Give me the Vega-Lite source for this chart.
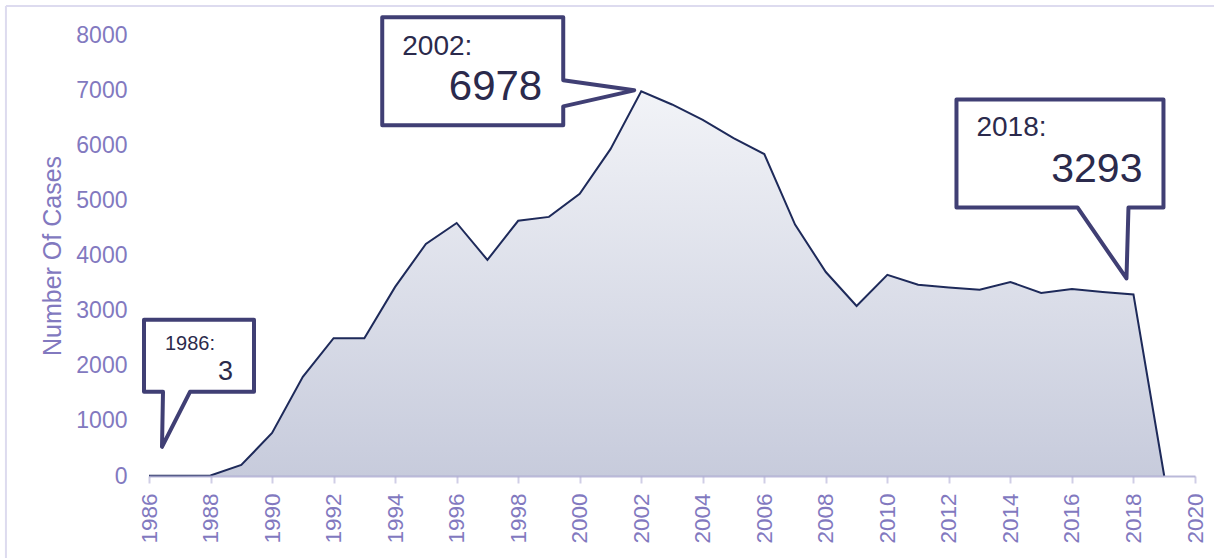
{
  "$schema": "https://vega.github.io/schema/vega-lite/v6.json",
  "width": 1046,
  "height": 441,
  "autosize": {"type": "none"},
  "padding": {"left": 149, "top": 35, "right": 19, "bottom": 82},
  "background": "white",
  "config": {"view": {"stroke": null}, "font": "Liberation Sans"},
  "datasets": {
    "cases": [
      {"year": 1986, "cases": 3},
      {"year": 1987, "cases": 4},
      {"year": 1988, "cases": 10},
      {"year": 1989, "cases": 200},
      {"year": 1990, "cases": 780},
      {"year": 1991, "cases": 1800},
      {"year": 1992, "cases": 2500},
      {"year": 1993, "cases": 2500},
      {"year": 1994, "cases": 3430},
      {"year": 1995, "cases": 4210},
      {"year": 1996, "cases": 4590},
      {"year": 1997, "cases": 3920},
      {"year": 1998, "cases": 4630},
      {"year": 1999, "cases": 4700},
      {"year": 2000, "cases": 5120},
      {"year": 2001, "cases": 5930},
      {"year": 2002, "cases": 6978},
      {"year": 2003, "cases": 6740},
      {"year": 2004, "cases": 6460},
      {"year": 2005, "cases": 6130},
      {"year": 2006, "cases": 5840},
      {"year": 2007, "cases": 4560},
      {"year": 2008, "cases": 3700},
      {"year": 2009, "cases": 3085},
      {"year": 2010, "cases": 3650},
      {"year": 2011, "cases": 3470},
      {"year": 2012, "cases": 3420},
      {"year": 2013, "cases": 3380},
      {"year": 2014, "cases": 3520},
      {"year": 2015, "cases": 3320},
      {"year": 2016, "cases": 3390},
      {"year": 2017, "cases": 3340},
      {"year": 2018, "cases": 3293},
      {"year": 2019, "cases": 0}
    ]
  },
  "data": {"name": "cases"},
  "layer": [
    {
      "mark": {"type": "rule", "color": "#dddbef", "strokeWidth": 2, "clip": false},
      "encoding": {
        "x": {"datum": 1981.35, "type": "quantitative"},
        "y": {"datum": 8526, "type": "quantitative"},
        "y2": {"datum": -1500}
      },
      "transform": [{"filter": "datum.year === 1986"}]
    },
    {
      "mark": {"type": "rule", "color": "#dddbef", "strokeWidth": 2, "clip": false},
      "encoding": {
        "x": {"datum": 1981.35, "type": "quantitative"},
        "x2": {"datum": 2021},
        "y": {"datum": 8526, "type": "quantitative"}
      },
      "transform": [{"filter": "datum.year === 1986"}]
    },
    {
      "mark": {
        "type": "area",
        "line": {"stroke": "#1e2a5a", "strokeWidth": 2},
        "color": {
          "gradient": "linear",
          "x1": 0, "y1": 0, "x2": 0, "y2": 1,
          "stops": [
            {"offset": 0, "color": "#eceef4"},
            {"offset": 1, "color": "#afb5cd"}
          ]
        }
      },
      "encoding": {
        "x": {
          "field": "year",
          "type": "quantitative",
          "scale": {"domain": [1986, 2020], "nice": false, "zero": false},
          "axis": {
            "title": null,
            "values": [1986,1987,1988,1989,1990,1991,1992,1993,1994,1995,1996,1997,1998,1999,2000,2001,2002,2003,2004,2005,2006,2007,2008,2009,2010,2011,2012,2013,2014,2015,2016,2017,2018,2019,2020],
            "format": "d",
            "labelExpr": "datum.value % 2 === 0 ? datum.label : ''",
            "labelAngle": -90,
            "labelAlign": "right",
            "labelBaseline": "middle",
            "labelFontSize": 22.5,
            "labelColor": "#8279bf",
            "labelPadding": 10,
            "labelOverlap": false,
            "labelFlush": false,
            "grid": false,
            "domainColor": "#a9a7d0",
            "domainOpacity": 0.8,
            "domainWidth": 2,
            "tickColor": "#d0cee6",
            "tickWidth": 2,
            "tickSize": 7,
            "zindex": 1
          }
        },
        "y": {
          "field": "cases",
          "type": "quantitative",
          "scale": {"domain": [0, 8000], "nice": false},
          "axis": {
            "title": "Number Of Cases",
            "values": [0, 1000, 2000, 3000, 4000, 5000, 6000, 7000, 8000],
            "format": "d",
            "grid": false,
            "domain": false,
            "ticks": false,
            "tickSize": 0,
            "labelPadding": 22,
            "labelFontSize": 23,
            "labelColor": "#8279bf",
            "titleFontSize": 25,
            "titleFontWeight": "normal",
            "titleColor": "#8279bf",
            "titlePadding": 10
          }
        }
      }
    },
    {
      "transform": [{"filter": "datum.year === 1986 || datum.year === 2002 || datum.year === 2018"}],
      "mark": {"type": "point", "filled": true, "fill": "white", "stroke": "#403f74", "strokeWidth": 4, "strokeJoin": "round", "opacity": 1, "size": 4},
      "encoding": {
        "x": {"field": "year", "type": "quantitative"},
        "y": {"field": "cases", "type": "quantitative"},
        "shape": {
          "field": "year",
          "type": "nominal",
          "scale": {
            "domain": [1986, 2002, 2018],
            "range": [
              "M -5 -156 L 105 -156 L 105 -84 L 41 -84 L 13 -29 L 14 -84 L -5 -84 Z",
              "M -259 -74 L -78 -74 L -78 -11 L -7 -1 L -78 15 L -78 34 L -259 34 Z",
              "M -177 -195 L 30 -195 L 30 -87 L -5 -87 L -7 -16 L -56 -87 L -177 -87 Z"
            ]
          },
          "legend": null
        }
      }
    },
    {
      "transform": [{"filter": "datum.year === 1986"}],
      "mark": {"type": "text", "align": "left", "baseline": "alphabetic", "dx": 16, "dy": -126, "fontSize": 20, "color": "#2b2a4c", "text": {"expr": "datum.year + ':'"}},
      "encoding": {"x": {"field": "year", "type": "quantitative"}, "y": {"field": "cases", "type": "quantitative"}}
    },
    {
      "transform": [{"filter": "datum.year === 1986"}],
      "mark": {"type": "text", "align": "right", "baseline": "alphabetic", "dx": 84, "dy": -96, "fontSize": 27, "color": "#2b2a4c"},
      "encoding": {"x": {"field": "year", "type": "quantitative"}, "y": {"field": "cases", "type": "quantitative"}, "text": {"field": "cases", "type": "quantitative", "format": "d"}}
    },
    {
      "transform": [{"filter": "datum.year === 2002"}],
      "mark": {"type": "text", "align": "left", "baseline": "alphabetic", "dx": -239, "dy": -36, "fontSize": 28, "color": "#2b2a4c", "text": {"expr": "datum.year + ':'"}},
      "encoding": {"x": {"field": "year", "type": "quantitative"}, "y": {"field": "cases", "type": "quantitative"}}
    },
    {
      "transform": [{"filter": "datum.year === 2002"}],
      "mark": {"type": "text", "align": "right", "baseline": "alphabetic", "dx": -99, "dy": 9, "fontSize": 42, "color": "#2b2a4c"},
      "encoding": {"x": {"field": "year", "type": "quantitative"}, "y": {"field": "cases", "type": "quantitative"}, "text": {"field": "cases", "type": "quantitative", "format": "d"}}
    },
    {
      "transform": [{"filter": "datum.year === 2018"}],
      "mark": {"type": "text", "align": "left", "baseline": "alphabetic", "dx": -157, "dy": -158, "fontSize": 28, "color": "#2b2a4c", "text": {"expr": "datum.year + ':'"}},
      "encoding": {"x": {"field": "year", "type": "quantitative"}, "y": {"field": "cases", "type": "quantitative"}}
    },
    {
      "transform": [{"filter": "datum.year === 2018"}],
      "mark": {"type": "text", "align": "right", "baseline": "alphabetic", "dx": 9, "dy": -112, "fontSize": 41, "color": "#2b2a4c"},
      "encoding": {"x": {"field": "year", "type": "quantitative"}, "y": {"field": "cases", "type": "quantitative"}, "text": {"field": "cases", "type": "quantitative", "format": "d"}}
    }
  ]
}
